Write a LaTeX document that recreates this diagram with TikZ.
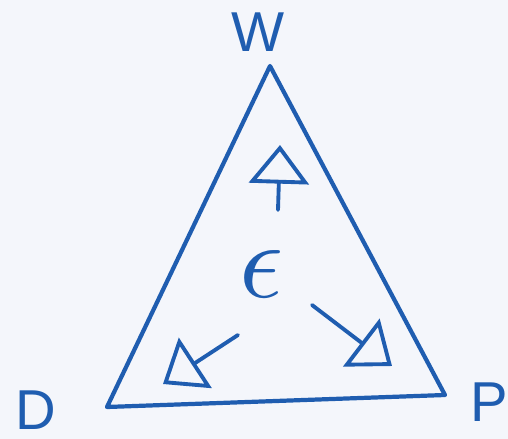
\documentclass[tikz,border=0pt]{standalone}
\usepackage{fontspec}
\setmainfont{Liberation Sans}
\usetikzlibrary{arrows.meta}
\definecolor{pen}{HTML}{1F5DB0}
\definecolor{paper}{HTML}{F4F6FB}
\begin{document}
\begin{tikzpicture}[x=0.02cm,y=-0.02cm,
  edge/.style={draw=pen,line width=2.4pt,line join=round,line cap=round},
  vec/.style={draw=pen,line width=2.2pt,line cap=round,-{Triangle[open,length=22pt,width=34pt,line width=2.2pt]}},
  lbl/.style={text=pen,font=\fontsize{32}{32}\selectfont,inner sep=0pt}]
\fill[paper] (0,0) rectangle (508,439);
\useasboundingbox (0,0) rectangle (508,439);
\coordinate (W) at (270,66);
\coordinate (D) at (107,407);
\coordinate (P) at (445,395);
\draw[edge] (W) -- (D) -- (P) -- cycle;
\node[lbl] (lw) at (258,32) {W};
\node[lbl] (ld) at (36,410) {D};
\node[lbl] (lp) at (489,402) {P};
\node[text=pen,inner sep=0pt] (e) at (262,274) {\scalebox{6.2}{$\epsilon$}};
\coordinate (a1) at (278,210);
\coordinate (a2) at (280,145);
\coordinate (b1) at (238,335);
\coordinate (b2) at (163,384);
\coordinate (c1) at (312,305);
\coordinate (c2) at (392,366);
\draw[vec] (a1) -- (a2);
\draw[vec] (b1) -- (b2);
\draw[vec] (c1) -- (c2);
\end{tikzpicture}
\end{document}
